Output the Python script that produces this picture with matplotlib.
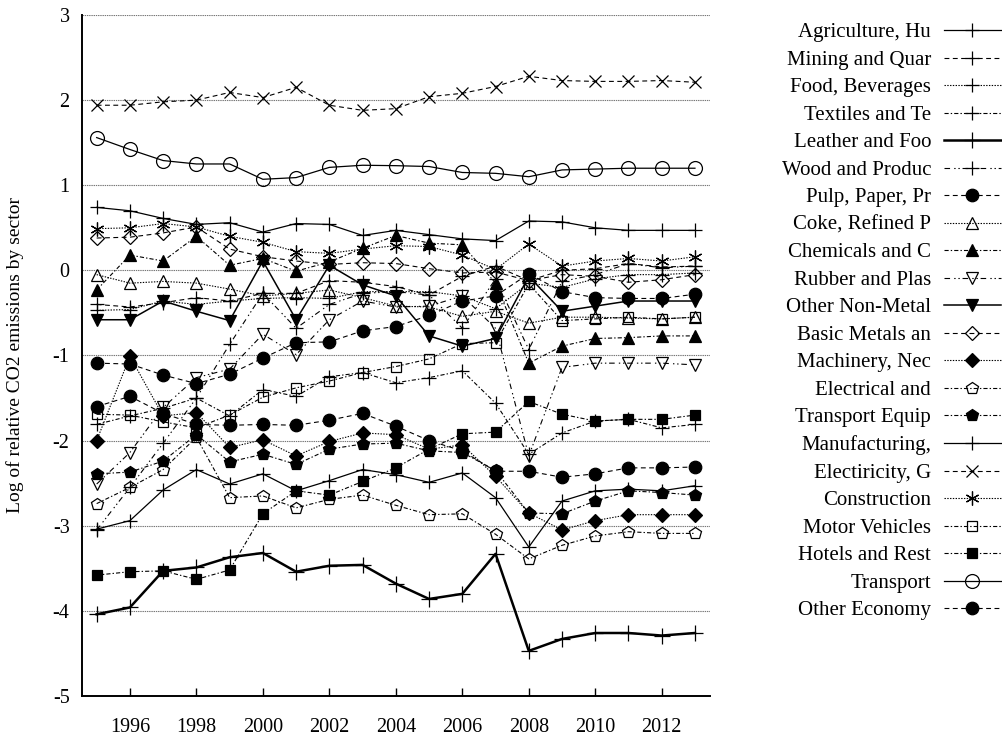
import numpy as np
import matplotlib
matplotlib.use('Agg')
import matplotlib.pyplot as plt

plt.rcParams['font.family'] = ['Liberation Serif', 'DejaVu Serif']
plt.rcParams['lines.scale_dashes'] = False
plt.rcParams['axes.unicode_minus'] = False

years = list(range(1995, 2014))

sectors = ['Agriculture, Hu', 'Mining and Quar', 'Food, Beverages', 'Textiles and Te',
           'Leather and Foo', 'Wood and Produc', 'Pulp, Paper, Pr', 'Coke, Refined P',
           'Chemicals and C', 'Rubber and Plas', 'Other Non-Metal', 'Basic Metals an',
           'Machinery, Nec', 'Electrical and', 'Transport Equip', 'Manufacturing,',
           'Electiricity, G', 'Construction', 'Motor Vehicles', 'Hotels and Rest',
           'Transport', 'Other Economy']

# values, one list per sector, 1995..2013
agriculture = [0.74, 0.70, 0.61, 0.54, 0.56, 0.45, 0.55, 0.54, 0.41, 0.47, 0.42, 0.37, 0.35, 0.58, 0.57, 0.50, 0.47, 0.47, 0.47]
mining = [-0.40, -0.43, -0.38, -0.32, -0.36, -0.27, -0.27, -0.12, -0.14, -0.19, -0.29, -0.07, 0.05, -0.12, 0.00, 0.02, 0.08, 0.04, 0.05]
food = [-0.47, -0.46, -0.36, -0.40, -0.36, -0.33, -0.32, -0.33, -0.25, -0.25, -0.25, -0.30, -0.45, -0.15, -0.20, -0.10, -0.05, -0.05, -0.03]
textiles = [-1.81, -1.71, -1.62, -1.50, -1.71, -1.40, -1.48, -1.25, -1.20, -1.32, -1.26, -1.18, -1.56, -2.16, -1.91, -1.77, -1.75, -1.85, -1.81]
leather = [-4.04, -3.96, -3.53, -3.49, -3.37, -3.32, -3.54, -3.47, -3.46, -3.68, -3.86, -3.80, -3.33, -4.47, -4.33, -4.26, -4.26, -4.29, -4.26]
wood = [-3.05, -2.55, -2.03, -1.50, -0.87, -0.27, -0.68, -0.40, -0.27, -0.25, -0.29, -0.68, -0.10, -0.93, -0.13, -0.05, 0.08, 0.03, 0.05]
pulp = [-1.09, -1.10, -1.23, -1.33, -1.22, -1.03, -0.85, -0.84, -0.71, -0.66, -0.53, -0.36, -0.30, -0.04, -0.25, -0.32, -0.33, -0.33, -0.28]
coke = [-0.05, -0.15, -0.13, -0.15, -0.22, -0.30, -0.27, -0.23, -0.32, -0.42, -0.43, -0.54, -0.48, -0.62, -0.55, -0.55, -0.56, -0.57, -0.55]
chemicals = [-0.23, 0.18, 0.11, 0.40, 0.06, 0.14, -0.01, 0.10, 0.26, 0.41, 0.32, 0.30, -0.15, -1.09, -0.89, -0.80, -0.79, -0.77, -0.77]
rubber = [-2.51, -2.14, -1.61, -1.26, -1.16, -0.75, -0.99, -0.58, -0.36, -0.43, -0.42, -0.30, -0.68, -2.18, -1.14, -1.09, -1.09, -1.09, -1.11]
non_metal = [-0.58, -0.58, -0.36, -0.48, -0.59, 0.11, -0.58, 0.06, -0.17, -0.30, -0.77, -0.89, -0.80, -0.07, -0.48, -0.42, -0.36, -0.36, -0.36]
basic_metals = [0.38, 0.39, 0.44, 0.51, 0.25, 0.16, 0.11, 0.07, 0.09, 0.08, 0.02, -0.03, -0.02, -0.12, -0.05, -0.07, -0.14, -0.11, -0.05]
machinery = [-2.00, -1.01, -1.71, -1.67, -2.08, -1.99, -2.18, -2.01, -1.91, -1.93, -2.10, -2.05, -2.42, -2.85, -3.05, -2.94, -2.87, -2.87, -2.87]
electrical = [-2.74, -2.55, -2.34, -1.96, -2.67, -2.65, -2.79, -2.69, -2.64, -2.76, -2.87, -2.86, -3.10, -3.39, -3.23, -3.12, -3.07, -3.09, -3.09]
transport_equip = [-2.39, -2.37, -2.24, -1.93, -2.25, -2.16, -2.28, -2.10, -2.04, -2.03, -2.12, -2.14, -2.35, -2.85, -2.86, -2.71, -2.59, -2.61, -2.64]
manufacturing = [-3.04, -2.94, -2.58, -2.34, -2.51, -2.39, -2.59, -2.47, -2.34, -2.40, -2.49, -2.38, -2.67, -3.25, -2.71, -2.59, -2.57, -2.59, -2.53]
electricity = [1.94, 1.94, 1.98, 2.00, 2.09, 2.03, 2.15, 1.94, 1.88, 1.90, 2.04, 2.08, 2.16, 2.28, 2.23, 2.22, 2.22, 2.23, 2.21]
construction = [0.49, 0.50, 0.55, 0.51, 0.40, 0.33, 0.22, 0.20, 0.25, 0.29, 0.28, 0.18, 0.01, 0.31, 0.05, 0.11, 0.14, 0.11, 0.16]
motor_vehicles = [-1.69, -1.70, -1.78, -1.85, -1.70, -1.49, -1.38, -1.30, -1.20, -1.13, -1.04, -0.86, -0.85, -0.16, -0.59, -0.57, -0.55, -0.57, -0.55]
hotels = [-3.58, -3.54, -3.53, -3.63, -3.52, -2.86, -2.59, -2.64, -2.48, -2.32, -2.10, -1.92, -1.90, -1.54, -1.69, -1.77, -1.75, -1.75, -1.70]
transport = [1.56, 1.42, 1.29, 1.25, 1.25, 1.07, 1.09, 1.21, 1.235, 1.23, 1.22, 1.15, 1.14, 1.10, 1.18, 1.19, 1.20, 1.20, 1.20]
other_economy = [-1.60, -1.48, -1.68, -1.81, -1.82, -1.81, -1.82, -1.76, -1.68, -1.83, -2.00, -2.12, -2.36, -2.36, -2.43, -2.39, -2.32, -2.32, -2.31]

series = [agriculture, mining, food, textiles, leather, wood, pulp, coke, chemicals,
          rubber, non_metal, basic_metals, machinery, electrical, transport_equip,
          manufacturing, electricity, construction, motor_vehicles, hotels,
          transport, other_economy]

# gnuplot-like mono line types
SOLID = '-'
DASH = (0, (3.5, 2.5))
DOT = (0, (1, 1))
DASHDOT = (0, (3, 1.5, 1, 1.5))
DASHDOTDOT = (0, (4, 3, 1, 2, 1, 2))
ASTER = (6, 2, 0)

# (linestyle, linewidth, marker, size, filled)
styles = [
    (SOLID, 0.9, '+', 10, True),
    (DASH, 0.8, '+', 10, True),
    (DOT, 0.8, '+', 10, True),
    (DASHDOT, 0.8, '+', 10, True),
    (SOLID, 1.8, '+', 11, True),
    (DASHDOTDOT, 0.8, '+', 10, True),
    (DASH, 0.8, 'o', 9, True),
    (DOT, 0.8, '^', 9, False),
    (DASHDOT, 0.8, '^', 9, True),
    (DASHDOTDOT, 0.8, 'v', 9, False),
    (SOLID, 1.1, 'v', 9, True),
    (DASH, 0.8, 'D', 7, False),
    (DOT, 0.8, 'D', 7, True),
    (DASHDOT, 0.8, 'p', 9, False),
    (DASHDOT, 0.8, 'p', 9, True),
    (SOLID, 0.9, '+', 10, True),
    (DASH, 0.8, 'x', 8, True),
    (DOT, 0.8, ASTER, 10, True),
    (DASHDOT, 0.8, 's', 7, False),
    (DASHDOT, 0.8, 's', 7, True),
    (SOLID, 0.9, 'o', 10, False),
    (DASH, 0.8, 'o', 9, True),
]

fig = plt.figure(figsize=(10.03, 7.39), dpi=100)
ax = fig.add_axes([0.0818, 0.0582, 0.626, 0.9215])

for name, vals, st in zip(sectors, series, styles):
    ls, lw, mk, ms, filled = st
    ax.plot(years, vals, color='black', linestyle=ls, linewidth=lw,
            marker=mk, markersize=ms, markeredgewidth=0.9,
            markerfacecolor='black' if filled else 'none',
            markeredgecolor='black', label=name)

ax.set_xlim(1994.56, 2013.45)
ax.set_ylim(-5, 3)
ax.set_xticks(range(1996, 2013, 2))
ax.set_yticks(range(-5, 4))
for y in range(-4, 4):
    ax.axhline(y, color='#777777', linewidth=0.8, linestyle=(0, (1, 0.6)), zorder=0)

ax.spines['top'].set_visible(False)
ax.spines['right'].set_visible(False)
ax.spines['left'].set_linewidth(1.4)
ax.spines['bottom'].set_linewidth(1.4)
ax.tick_params(axis='x', direction='in', length=6, width=1, pad=16, labelsize=14.5)
ax.tick_params(axis='y', length=0, pad=9, labelsize=14.5)
ax.set_ylabel('Log of relative CO2 emissions by sector', fontsize=14)
ax.yaxis.set_label_coords(-0.092, 0.5)

fig.legend(loc='upper right', bbox_to_anchor=(0.998, 0.969), frameon=False,
           markerfirst=False, fontsize=15, handlelength=2.75, handletextpad=0.6,
           labelspacing=0.38, borderpad=0, borderaxespad=0)

fig.savefig('out.png', dpi=100)
